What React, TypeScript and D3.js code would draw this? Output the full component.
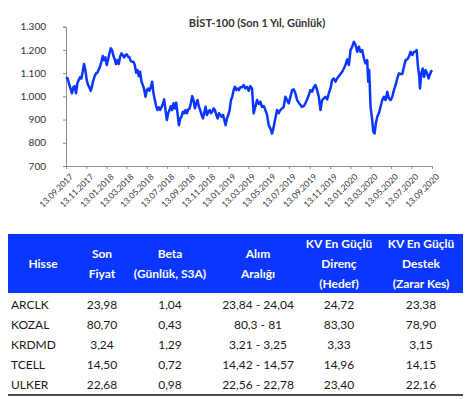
import React, { useRef, useEffect } from "react";
import * as d3 from "d3";

// BIST-100 closes, keyed by days since 13.09.2017
const dayOffsets = [
  0, 5, 10, 15, 18, 22, 26, 30, 34, 38, 42, 46, 50, 54, 58, 62, 66, 70, 74, 78,
  82, 86, 90, 94, 98, 102, 106, 110, 114, 118, 122, 126, 130, 134, 138, 142, 146,
  150, 154, 158, 162, 166, 170, 174, 178, 182, 186, 190, 194, 198, 202, 206, 210,
  214, 218, 222, 226, 230, 234, 238, 242, 246, 250, 254, 258, 262, 266, 270, 274,
  278, 282, 286, 290, 294, 298, 302, 306, 310, 314, 318, 322, 326, 330, 334, 338,
  342, 346, 350, 354, 358, 362, 366, 370, 374, 378, 382, 386, 390, 394, 398, 402,
  406, 410, 414, 418, 422, 426, 430, 434, 438, 442, 446, 450, 454, 458, 462, 466,
  470, 474, 478, 482, 486, 490, 494, 498, 502, 506, 510, 514, 518, 522, 527, 532,
  537, 542, 547, 552, 557, 562, 567, 572, 577, 582, 587, 592, 597, 602, 607, 612,
  617, 620, 624, 628, 632, 637, 642, 647, 652, 657, 662, 667, 672, 677, 682, 687,
  692, 697, 702, 707, 712, 717, 722, 727, 732, 737, 742, 747, 752, 757, 762, 767,
  772, 777, 782, 787, 792, 797, 802, 807, 812, 817, 822, 827, 832, 837, 842, 847,
  852, 857, 862, 867, 872, 877, 882, 887, 892, 897, 902, 905, 908, 912, 917, 920,
  924, 928, 932, 937, 942, 947, 952, 957, 962, 967, 972, 977, 982, 987, 992, 997,
  1002, 1007, 1012, 1017, 1022, 1027, 1032, 1037, 1042, 1047, 1050, 1054, 1058,
  1060, 1064, 1068, 1072, 1077, 1082, 1086, 1089, 1093, 1096,
];
const closes = [
  1082, 1077, 1049, 1027, 1013, 1039, 1044, 1013, 1056, 1070, 1082, 1077, 1106,
  1139, 1113, 1070, 1049, 1039, 1024, 1044, 1070, 1087, 1099, 1102, 1116, 1128,
  1149, 1174, 1156, 1168, 1135, 1159, 1185, 1207, 1199, 1174, 1159, 1139, 1156,
  1139, 1171, 1185, 1178, 1168, 1178, 1181, 1171, 1168, 1152, 1149, 1149, 1135,
  1102, 1113, 1087, 1106, 1063, 1049, 1030, 998, 1027, 1034, 1024, 1039, 1063,
  1013, 984, 958, 941, 953, 941, 953, 967, 987, 941, 898, 927, 941, 958, 941, 970,
  948, 973, 927, 876, 905, 912, 934, 927, 941, 927, 944, 948, 970, 1001, 984, 948,
  970, 984, 955, 941, 920, 905, 930, 955, 920, 934, 941, 927, 934, 948, 941, 920,
  905, 927, 920, 912, 920, 898, 876, 905, 920, 941, 984, 998, 1027, 1041, 1027,
  1034, 1027, 1039, 1039, 1049, 1034, 1041, 1024, 1044, 1034, 927, 955, 984, 967,
  977, 955, 958, 941, 920, 876, 862, 840, 855, 884, 912, 941, 927, 941, 948, 955,
  998, 984, 970, 998, 1027, 1030, 1013, 984, 973, 963, 955, 958, 970, 987, 1006,
  1027, 1020, 1039, 1049, 1027, 998, 941, 984, 991, 998, 987, 1013, 1034, 1070,
  1077, 1063, 1077, 1087, 1096, 1106, 1120, 1135, 1159, 1135, 1199, 1214, 1235,
  1221, 1192, 1214, 1192, 1199, 1164, 1142, 1156, 1063, 1113, 955, 898, 848, 840,
  884, 912, 927, 955, 984, 998, 984, 1020, 991, 984, 998, 1027, 1049, 1077, 1099,
  1096, 1096, 1128, 1156, 1159, 1171, 1192, 1178, 1192, 1192, 1199, 1128, 1084,
  1034, 1099, 1120, 1084, 1113, 1096, 1077, 1091, 1106, 1113,
];

const xTickLabels = [
  "13.09.2017", "13.11.2017", "13.01.2018", "13.03.2018", "13.05.2018",
  "13.07.2018", "13.09.2018", "13.11.2018", "13.01.2019", "13.03.2019",
  "13.05.2019", "13.07.2019", "13.09.2019", "13.11.2019", "13.01.2020",
  "13.03.2020", "13.05.2020", "13.07.2020", "13.09.2020",
];
const yTickValues = [700, 800, 900, 1000, 1100, 1200, 1300];
const yTickLabels = ["700", "800", "900", "1.000", "1.100", "1.200", "1.300"];

const headers = [
  ["Hisse"],
  ["Son", "Fiyat"],
  ["Beta", "(Günlük, S3A)"],
  ["Alım", "Aralığı"],
  ["KV En Güçlü", "Direnç", "(Hedef)"],
  ["KV En Güçlü", "Destek", "(Zarar Kes)"],
];
const tickers = ["ARCLK", "KOZAL", "KRDMD", "TCELL", "ULKER"];
const lastPrice = ["23,98", "80,70", "3,24", "14,50", "22,68"];
const beta = ["1,04", "0,43", "1,29", "0,72", "0,98"];
const buyRange = ["23,84 - 24,04", "80,3 - 81", "3,21 - 3,25", "14,42 - 14,57", "22,56 - 22,78"];
const resistance = ["24,72", "83,30", "3,33", "14,96", "23,40"];
const support = ["23,38", "78,90", "3,15", "14,15", "22,16"];

const FONT = "Lato, 'Open Sans', sans-serif";

const App = () => {
  const svgRef = useRef(null);

  useEffect(() => {
    const svg = d3.select(svgRef.current);
    svg.selectAll("*").remove();

    const parse = d3.timeParse("%d.%m.%Y");
    const start = parse(xTickLabels[0]);
    const end = parse(xTickLabels[xTickLabels.length - 1]);
    const series = dayOffsets.map((d, i) => ({
      date: d3.timeDay.offset(start, d),
      value: closes[i],
    }));

    const x = d3.scaleTime().domain([start, end]).range([66, 432]);
    const y = d3.scaleLinear().domain([700, 1300]).range([166, 26.7]);

    // title
    svg
      .append("text")
      .attr("x", 257)
      .attr("y", 27)
      .attr("text-anchor", "middle")
      .attr("font-family", FONT)
      .attr("font-weight", "bold")
      .attr("font-size", 11)
      .attr("fill", "#333")
      .text("BİST-100 (Son 1 Yıl, Günlük)");

    // y axis
    const yAxis = svg
      .append("g")
      .attr("transform", `translate(${x.range()[0]},0)`)
      .call(
        d3
          .axisLeft(y)
          .tickValues(yTickValues)
          .tickSize(3)
          .tickPadding(17)
          .tickFormat((d, i) => yTickLabels[i])
      );
    yAxis.select(".domain").attr("stroke", "#8c8c8c");
    yAxis.selectAll(".tick line").attr("stroke", "#8c8c8c");
    yAxis
      .selectAll("text")
      .attr("font-family", FONT)
      .attr("font-size", 10)
      .attr("fill", "#333");

    // x axis
    const xAxis = svg
      .append("g")
      .attr("transform", `translate(0,${y(700)})`)
      .call(
        d3
          .axisBottom(x)
          .tickValues(xTickLabels.map((t) => parse(t)))
          .tickSize(3)
          .tickFormat((d, i) => xTickLabels[i])
      );
    xAxis.select(".domain").attr("stroke", "#8c8c8c");
    xAxis.selectAll(".tick line").attr("stroke", "#8c8c8c");
    xAxis
      .selectAll("text")
      .attr("font-family", FONT)
      .attr("font-size", 8.5)
      .attr("fill", "#333")
      .style("text-anchor", "end")
      .attr("dx", 0)
      .attr("dy", 0)
      .attr("transform", "translate(3,7) rotate(-45)");

    // index line
    const line = d3
      .line()
      .x((d) => x(d.date))
      .y((d) => y(d.value));
    svg
      .append("path")
      .datum(series)
      .attr("fill", "none")
      .attr("stroke", "#0a36ff")
      .attr("stroke-width", 2.5)
      .attr("stroke-linejoin", "round")
      .attr("d", line);

    // table
    const colX = d3.scaleOrdinal().domain(d3.range(6)).range([43, 102, 170, 258, 339, 421]);
    const tableLeft = 8;
    const tableRight = 463;
    const headTop = 234;
    const headBottom = 293;
    const rowH = 20;

    svg
      .append("rect")
      .attr("x", tableLeft)
      .attr("y", headTop)
      .attr("width", tableRight - tableLeft)
      .attr("height", headBottom - headTop)
      .attr("fill", "#0a36ff");

    const headMid = (headTop + headBottom) / 2;
    headers.forEach((lines, c) => {
      const lh = 20;
      const first = headMid - ((lines.length - 1) * lh) / 2;
      lines.forEach((t, k) => {
        svg
          .append("text")
          .attr("x", colX(c))
          .attr("y", first + k * lh)
          .attr("dy", "0.35em")
          .attr("text-anchor", "middle")
          .attr("font-family", FONT)
          .attr("font-weight", "bold")
          .attr("font-size", 12)
          .attr("fill", "#fff")
          .text(t);
      });
    });

    const rows = tickers.map((t, i) => [t, lastPrice[i], beta[i], buyRange[i], resistance[i], support[i]]);
    rows.forEach((r, i) => {
      const cy = headBottom + 12 + i * rowH;
      r.forEach((v, c) => {
        svg
          .append("text")
          .attr("x", c === 0 ? 11 : colX(c))
          .attr("y", cy)
          .attr("dy", "0.35em")
          .attr("text-anchor", c === 0 ? "start" : "middle")
          .attr("font-family", FONT)
          .attr("font-size", 12)
          .attr("fill", "#1a1a1a")
          .text(v);
      });
    });

    svg
      .append("line")
      .attr("x1", tableLeft)
      .attr("x2", tableRight)
      .attr("y1", 395)
      .attr("y2", 395)
      .attr("stroke", "#111")
      .attr("stroke-width", 1.5);
  }, []);

  return (
    <svg
      ref={svgRef}
      width={471}
      height={399}
      style={{ position: "absolute", left: 0, top: 0, background: "#fff" }}
    ></svg>
  );
};

export default App;
